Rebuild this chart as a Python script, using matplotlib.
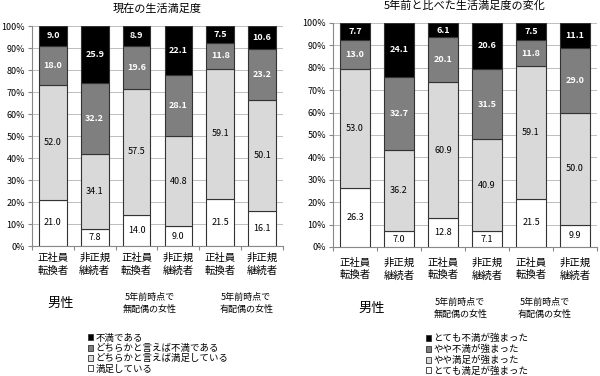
import numpy as np
import matplotlib.pyplot as plt
from matplotlib.patches import Patch

plt.rcParams['font.family'] = ['Noto Sans CJK JP', 'DejaVu Sans']

cats_top = ['正社員', '非正規', '正社員', '非正規', '正社員', '非正規']
cats_bot = ['転換者', '継続者', '転換者', '継続者', '転換者', '継続者']
groups = ['男性', '5年前時点で\n無配偶の女性', '5年前時点で\n有配偶の女性']

# 現在の生活満足度 (bottom -> top)
now_satisfied = [21.0, 7.8, 14.0, 9.0, 21.5, 16.1]
now_rather_sat = [52.0, 34.1, 57.5, 40.8, 59.1, 50.1]
now_rather_dis = [18.0, 32.2, 19.6, 28.1, 11.8, 23.2]
now_dissat = [9.0, 25.9, 8.9, 22.1, 7.5, 10.6]
now_labels = ['不満である', 'どちらかと言えば不満である', 'どちらかと言えば満足している', '満足している']

# 5年前と比べた変化 (bottom -> top)
chg_very_sat = [26.3, 7.0, 12.8, 7.1, 21.5, 9.9]
chg_bit_sat = [53.0, 36.2, 60.9, 40.9, 59.1, 50.0]
chg_bit_dis = [13.0, 32.7, 20.1, 31.5, 11.8, 29.0]
chg_very_dis = [7.7, 24.1, 6.1, 20.6, 7.5, 11.1]
chg_labels = ['とても不満が強まった', 'やや不満が強まった', 'やや満足が強まった', 'とても満足が強まった']

colors = ['white', '#d9d9d9', '#7f7f7f', 'black']
txt_colors = ['black', 'black', 'white', 'white']
weights = ['normal', 'normal', 'bold', 'bold']

W, H = 600, 376
fig = plt.figure(figsize=(6, 3.76), dpi=100)


def px_axes(x0, y_top, x1, y_bot):
    return fig.add_axes([x0 / W, 1 - y_bot / H, (x1 - x0) / W, (y_bot - y_top) / H])


def draw(ax, series, title, legend_labels, leg_x, cat_y, grp_y, grp_x):
    x = np.arange(6)
    bottom = np.zeros(6)
    for s, c, tc, w in zip(series, colors, txt_colors, weights):
        s = np.array(s)
        ax.bar(x, s, 0.66, bottom=bottom, color=c, edgecolor='#333333', linewidth=0.8, zorder=3)
        for xi, b, v in zip(x, bottom, s):
            ax.text(xi, b + v / 2, f'{v:.1f}', ha='center', va='center', fontsize=6.5,
                    color=tc, fontweight=w, zorder=4)
        bottom += s
    ax.set_xlim(-0.5, 5.5)
    ax.set_ylim(0, 100)
    ax.set_yticks(np.arange(0, 101, 10))
    ax.set_yticklabels([f'{v}%' for v in range(0, 101, 10)], fontsize=6.5)
    ax.yaxis.grid(True, color='#bdbdbd', linewidth=0.7, zorder=0)
    ax.set_axisbelow(True)
    ax.set_xticks(np.arange(-0.5, 6, 1))
    ax.set_xticklabels([])
    ax.tick_params(axis='x', length=3, color='#888888')
    ax.tick_params(axis='y', length=3, color='#888888', pad=2)
    for sp in ['top', 'right']:
        ax.spines[sp].set_visible(False)
    for sp in ['left', 'bottom']:
        ax.spines[sp].set_color('#888888')
    ax.set_title(title, fontsize=8, pad=10.5)
    tr = ax.get_xaxis_transform()
    for i in range(6):
        ax.text(i, cat_y, cats_top[i] + '\n' + cats_bot[i], transform=tr,
                ha='center', va='center', fontsize=7.5, linespacing=1.3)
    for j, g in enumerate(groups):
        ax.text(grp_x[j], grp_y, g, transform=tr, ha='center', va='center',
                fontsize=9.5 if j == 0 else 6.5, linespacing=1.4)
    handles = [Patch(facecolor=c, edgecolor='#333333', linewidth=0.6) for c in colors[::-1]]
    fig.legend(handles, legend_labels, loc='upper left', bbox_to_anchor=(leg_x / W, 1 - 329 / H),
               frameon=False, fontsize=6.8, handlelength=0.6, handleheight=0.6,
               handletextpad=0.2, labelspacing=0.12, borderpad=0)


ax1 = px_axes(32, 26, 283, 246)
draw(ax1, [now_satisfied, now_rather_sat, now_rather_dis, now_dissat],
     '現在の生活満足度', now_labels, 83, -0.084, -0.262, [0.19, 2.31, 4.62])
ax2 = px_axes(333, 23, 597, 247)
draw(ax2, [chg_very_sat, chg_bit_sat, chg_bit_dis, chg_very_dis],
     '5年前と比べた生活満足度の変化', chg_labels, 421, -0.098, -0.275, [0.39, 2.39, 4.32])

fig.savefig('out.png', dpi=100)
